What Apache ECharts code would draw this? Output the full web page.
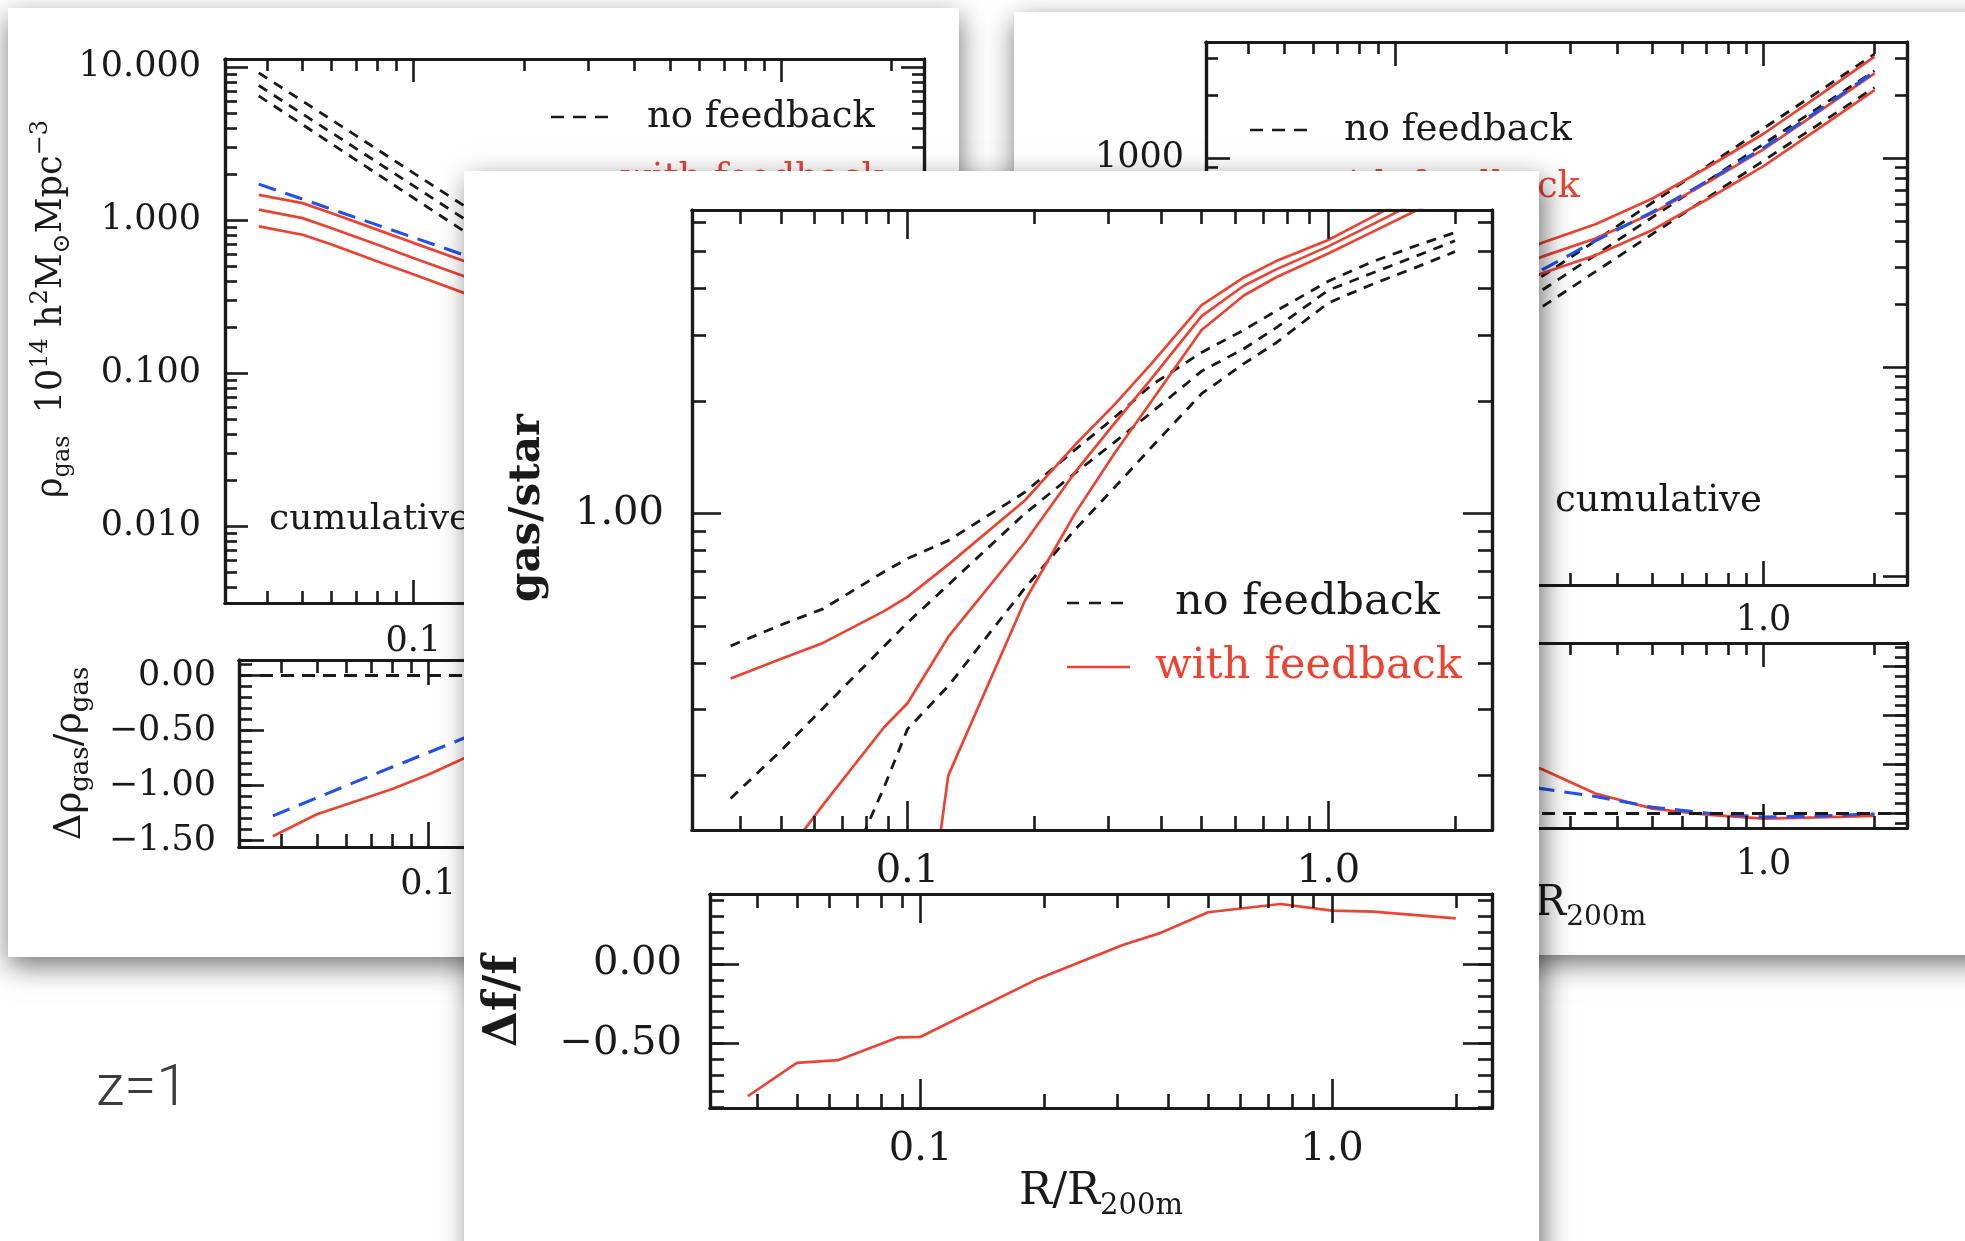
<!DOCTYPE html>
<html><head><meta charset="utf-8">
<script src="https://cdn.jsdelivr.net/npm/echarts@6/dist/echarts.min.js"></script>
<style>html,body{margin:0;padding:0;background:#fff}#c{width:1965px;height:1241px}</style>
</head><body><div id="c"></div>
<script>
// ================= DATA =================
// shared radial range R/R200m
const R_MIN = 0.03076, R_MAX = 2.449;
const X_MAJOR = [0.1, 1];
const X_LABELS = ['0.1', '1.0'];

// ---- left card: cumulative gas density ----
const LT_R      = [0.038, 0.05, 0.06, 0.08, 0.1, 0.15, 0.25, 0.4, 0.6, 1.0, 1.5, 2.0];
const LT_NOFB_1 = [9.18, 6.0, 4.52, 2.884, 2.037, 1.084, 0.455, 0.209, 0.107, 0.0437, 0.0209, 0.012];
const LT_NOFB_2 = [7.586, 4.943, 3.724, 2.377, 1.679, 0.891, 0.372, 0.170, 0.0871, 0.0355, 0.017, 0.010];
const LT_NOFB_3 = [6.486, 4.207, 3.148, 1.995, 1.40, 0.736, 0.302, 0.138, 0.0708, 0.0288, 0.0138, 0.0081];
const LT_FB_1   = [1.462, 1.291, 1.109, 0.863, 0.710, 0.501, 0.263, 0.138, 0.0776, 0.0347, 0.0174, 0.0105];
const LT_FB_2   = [1.172, 1.030, 0.885, 0.689, 0.566, 0.398, 0.209, 0.112, 0.0646, 0.0302, 0.0155, 0.00955];
const LT_FB_3   = [0.910, 0.802, 0.692, 0.537, 0.443, 0.309, 0.162, 0.0871, 0.0501, 0.024, 0.0126, 0.00794];
const LT_MEAN   = [1.718, 1.371, 1.178, 0.927, 0.771, 0.55, 0.288, 0.151, 0.0832, 0.0363, 0.0178, 0.0107];
const LT_Y_MAJOR = [0.01, 0.1, 1, 10];
const LT_Y_LABELS = ['0.010', '0.100', '1.000', '10.000'];
const LB_FB   = [-1.46, -1.26, -1.17, -1.03, -0.90, -0.63, -0.36, -0.18, -0.08, -0.02, 0.0, 0.01];
const LB_MEAN = [-1.274, -1.11, -1.00, -0.83, -0.70, -0.46, -0.24, -0.10, -0.03, 0.0, 0.0, 0.0];
const LB_Y_MAJOR = [-1.5, -1, -0.5, 0];
const LB_Y_LABELS = ['\u22121.50', '\u22121.00', '\u22120.50', '0.00'];

// ---- right card: cumulative profile ----
const RT_R      = [0.038, 0.06, 0.1, 0.15, 0.25, 0.35, 0.5, 0.7, 1.0, 1.4, 2.0];
const RT_NOFB_1 = [31.0, 50.1, 91.6, 147.9, 270.4, 401.8, 612.4, 909.9, 1387, 2061, 3141];
const RT_NOFB_2 = [27.5, 44.2, 80.0, 128.2, 232.3, 343.6, 521.2, 770.9, 1167, 1726, 2612];
const RT_NOFB_3 = [22.9, 36.7, 66.5, 106.7, 193.2, 285.8, 433.5, 641.2, 970.8, 1436, 2173];
const RT_FB_1   = [77.6, 112.7, 178.6, 254.7, 391.7, 482, 639.7, 895.4, 1306, 1968, 3055];
const RT_FB_2   = [68.9, 99.3, 156, 221, 336.5, 412, 544.5, 758.6, 1099, 1648, 2541];
const RT_FB_3   = [57.3, 82.6, 129.7, 183.7, 279.9, 342.8, 452.9, 630.9, 914.1, 1371, 2113];
const RT_MEAN   = [57.8, 83.9, 131.8, 185.8, 290.4, 401.8, 552, 770.9, 1119, 1675, 2588];
const RT_Y_MAJOR = [10, 100, 1000];
const RT_Y_LABELS = ['10', '100', '1000'];
const RB_FB   = [1.5, 1.25, 0.95, 0.72, 0.45, 0.2, 0.045, -0.017, -0.058, -0.045, -0.028];
const RB_MEAN = [1.1, 0.9, 0.65, 0.45, 0.25, 0.17, 0.06, 0.0, -0.041, -0.03, -0.01];
const RB_Y_MAJOR = [0, 0.5, 1, 1.5];
const RB_Y_LABELS = ['0.00', '0.50', '1.00', '1.50'];

// ---- middle card: gas/star ----
const MT_R      = [0.038, 0.05, 0.063, 0.088, 0.1, 0.125, 0.19, 0.25, 0.31, 0.38, 0.5, 0.63, 0.75, 1.0, 1.26, 1.6, 2.0];
const MT_NOFB_1 = [0.4436, 0.5047, 0.5572, 0.6998, 0.7586, 0.8472, 1.140, 1.479, 1.803, 2.203, 2.692, 3.090, 3.467, 4.169, 4.677, 5.164, 5.623];
const MT_NOFB_2 = [0.1738, 0.2328, 0.3027, 0.4426, 0.5117, 0.6457, 1.0, 1.282, 1.549, 1.862, 2.399, 2.754, 3.126, 3.945, 4.365, 4.842, 5.346];
const MT_NOFB_3 = [0.02, 0.0398, 0.0794, 0.1862, 0.2661, 0.3467, 0.6324, 0.9057, 1.172, 1.503, 2.089, 2.512, 2.851, 3.648, 4.074, 4.519, 5.0];
const MT_FB_1   = [0.3631, 0.4093, 0.4519, 0.5495, 0.5998, 0.7311, 1.084, 1.524, 1.950, 2.512, 3.597, 4.266, 4.710, 5.370, 6.152, 7.079, 8.072];
const MT_FB_2   = [0.0794, 0.1183, 0.1671, 0.2692, 0.3119, 0.4688, 0.8375, 1.288, 1.738, 2.291, 3.365, 4.055, 4.477, 5.164, 5.875, 6.730, 7.638];
const MT_FB_3   = [0.0063, 0.01, 0.0141, 0.0251, 0.0316, 0.2, 0.5848, 1.0, 1.445, 1.995, 3.09, 3.819, 4.266, 4.943, 5.61, 6.397, 7.228];
const MT_Y_MAJOR = [1];
const MT_Y_LABELS = ['1.00'];
const MB_R  = [0.038, 0.05, 0.063, 0.088, 0.1, 0.19, 0.31, 0.38, 0.5, 0.75, 1.0, 1.26, 2.0];
const MB_FB = [-0.832, -0.622, -0.605, -0.462, -0.458, -0.101, 0.12, 0.193, 0.326, 0.378, 0.336, 0.33, 0.288];
const MB_Y_MAJOR = [-0.5, 0];
const MB_Y_LABELS = ['\u22120.50', '0.00'];

// ================= STYLE / BUILD =================
const INK = '#1a1a1a', RED = '#ef4332', BLUE = '#2152ec';
const SERIF = '"DejaVu Serif", serif';

function decadeMinors(e0, e1, lo, hi) {
  const out = [];
  for (let e = e0; e <= e1; e++) for (let m = 2; m <= 9; m++) {
    const v = m * Math.pow(10, e);
    if (v >= lo * 0.999 && v <= hi * 1.001) out.push(v);
  }
  return out;
}
function linMinors(a, b) {
  const out = [];
  for (let k = Math.round(a * 10); k <= Math.round(b * 10); k++) out.push(k / 10);
  return out;
}
const X_MINOR = decadeMinors(-2, 0, R_MIN, R_MAX);

const option = {
  backgroundColor: '#ffffff', animation: false,
  textStyle: { fontFamily: SERIF },
  grid: [], xAxis: [], yAxis: [], series: [], graphic: { elements: [] }
};

function nearestText(vals, texts) {
  return function (v) {
    let k = 0, best = Infinity;
    vals.forEach((t, i) => { const d = Math.abs(t - v); if (d < best) { best = d; k = i; } });
    return texts[k];
  };
}

function decor(gi, pos, range, ticks, len, lab, name, zl) {
  const ax = {
    type: 'value', gridIndex: gi, position: pos, min: range[0], max: range[1],
    zlevel: zl, z: 6, silent: true,
    axisLine: { show: true, onZero: false, lineStyle: { color: INK, width: 3.2 } },
    axisTick: { show: true, inside: true, length: len, customValues: ticks, lineStyle: { color: INK, width: 2.6 } },
    axisLabel: { show: false }, splitLine: { show: false }, minorTick: { show: false }
  };
  if (lab) {
    ax.axisLabel = {
      show: true, customValues: lab.vals, margin: lab.margin, color: INK,
      fontFamily: SERIF, fontSize: lab.size, formatter: nearestText(lab.vals, lab.texts)
    };
  }
  if (name) Object.assign(ax, name);
  return ax;
}

function richName(size, sub, weight, pad) {
  return {
    color: INK, fontFamily: SERIF, fontSize: size, fontWeight: weight, padding: pad || 0,
    rich: {
      m: { fontFamily: SERIF, fontSize: size, fontWeight: weight, color: INK, lineHeight: Math.round(size * 1.3), verticalAlign: 'middle' },
      s: { fontFamily: SERIF, fontSize: sub, fontWeight: weight, color: INK, lineHeight: sub, verticalAlign: 'bottom' },
      p: { fontFamily: SERIF, fontSize: sub, fontWeight: weight, color: INK, lineHeight: sub, verticalAlign: 'top' }
    }
  };
}

function addPanel(p) {
  const gi = option.grid.length;
  option.grid.push({ left: p.left, top: p.top, width: p.width, height: p.height, show: false, zlevel: p.zl });
  p.xi = option.xAxis.length;
  option.xAxis.push({ type: 'log', logBase: 10, gridIndex: gi, min: R_MIN, max: R_MAX, show: false, zlevel: p.zl });
  p.yi = option.yAxis.length;
  option.yAxis.push(p.ylog
    ? { type: 'log', logBase: 10, gridIndex: gi, min: p.ymin, max: p.ymax, show: false, zlevel: p.zl }
    : { type: 'value', gridIndex: gi, min: p.ymin, max: p.ymax, show: false, zlevel: p.zl });
  const fx = Math.log10, fy = p.ylog ? Math.log10 : (v => v);
  const xr = [fx(R_MIN), fx(R_MAX)], yr = [fy(p.ymin), fy(p.ymax)];
  const xMaj = X_MAJOR.map(fx), xMin = X_MINOR.map(fx);
  const yMaj = p.yMajor.map(fy), yMin = p.yMinor.map(fy);
  const xl = { vals: xMaj, texts: X_LABELS, margin: p.xMargin, size: p.fs };
  const yl = { vals: yMaj, texts: p.yLabels, margin: p.yMargin, size: p.fs };
  option.xAxis.push(decor(gi, 'bottom', xr, xMaj, p.tick[0], xl, p.xName, p.zl));
  option.xAxis.push(decor(gi, 'bottom', xr, xMin, p.tick[1], null, null, p.zl));
  option.xAxis.push(decor(gi, 'top', xr, xMaj, p.tick[0], null, null, p.zl));
  option.xAxis.push(decor(gi, 'top', xr, xMin, p.tick[1], null, null, p.zl));
  option.yAxis.push(decor(gi, 'left', yr, yMaj, p.tick[0], yl, p.yName, p.zl));
  option.yAxis.push(decor(gi, 'left', yr, yMin, p.tick[1], null, null, p.zl));
  option.yAxis.push(decor(gi, 'right', yr, yMaj, p.tick[0], null, null, p.zl));
  option.yAxis.push(decor(gi, 'right', yr, yMin, p.tick[1], null, null, p.zl));
  return p;
}

const STY = {
  nofb: { color: INK, width: 2.8, type: [10, 8] },
  fb:   { color: RED, width: 2.7, type: 'solid' },
  mean: { color: BLUE, width: 3.1, type: [18, 10] }
};
function addLine(p, name, R, V, kind, extra) {
  const s = {
    type: 'line', name, xAxisIndex: p.xi, yAxisIndex: p.yi,
    data: R.map((r, i) => [r, V[i]]), symbol: 'none', showSymbol: false,
    lineStyle: STY[kind], zlevel: p.zl, z: 3, silent: true, clip: true, animation: false
  };
  if (extra) Object.assign(s, extra);
  option.series.push(s);
}
const zeroLine = {
  markLine: { symbol: 'none', silent: true, label: { show: false }, animation: false,
    lineStyle: { color: INK, width: 2.8, type: [13, 8] }, data: [{ yAxis: 0 }] }
};
function xNameOpt(gap, size, sub, pad) {
  return { name: '{m|R/R}{s|200m}', nameLocation: 'middle', nameGap: gap, nameTextStyle: richName(size, sub, 'normal', pad) };
}

// ---- panels ----
const LT = addPanel({ left: 225, top: 59, width: 699, height: 544, zl: 0, ylog: true, ymin: 0.003141, ymax: 11.30,
  yMajor: LT_Y_MAJOR, yLabels: LT_Y_LABELS, yMinor: decadeMinors(-3, 0, 0.003141, 11.3),
  tick: [23, 12], fs: 35, xMargin: 21, yMargin: 24,
  yName: { name: '{m|\u03c1}{s|gas}{m|  10}{p|14}{m| h}{p|2}{m|M}{s|\u2299}{m|Mpc}{p|\u22123}', nameLocation: 'middle', nameRotate: 90,
    nameGap: 132, nameTextStyle: richName(35, 24, 'normal', [0, 0, 0, 44]) } });
const LB = addPanel({ left: 239, top: 660, width: 702, height: 187, zl: 0, ylog: false, ymin: -1.557, ymax: 0.143,
  yMajor: LB_Y_MAJOR, yLabels: LB_Y_LABELS, yMinor: linMinors(-1.5, 0.1),
  tick: [25, 13], fs: 35, xMargin: 20, yMargin: 23,
  yName: { name: '{m|\u0394\u03c1}{s|gas}{m|/\u03c1}{s|gas}', nameLocation: 'middle', nameRotate: 90,
    nameGap: 145, nameTextStyle: richName(37, 26, 'normal') },
  xName: xNameOpt(48, 42, 28) });
const RT = addPanel({ left: 1206, top: 42, width: 701, height: 543, zl: 0, ylog: true, ymin: 9.057, ymax: 3589,
  yMajor: RT_Y_MAJOR, yLabels: RT_Y_LABELS, yMinor: decadeMinors(0, 3, 9.057, 3589),
  tick: [24, 12], fs: 35, xMargin: 18, yMargin: 22 });
const RB = addPanel({ left: 1206, top: 643, width: 701, height: 185, zl: 0, ylog: false, ymin: -0.153, ymax: 1.741,
  yMajor: RB_Y_MAJOR, yLabels: RB_Y_LABELS, yMinor: linMinors(-0.1, 1.7),
  tick: [24, 12], fs: 35, xMargin: 19, yMargin: 22, xName: xNameOpt(46, 42, 28, [0, 0, 0, 22]) });
const MT = addPanel({ left: 692, top: 210, width: 800, height: 620, zl: 1, ylog: true, ymin: 0.1432, ymax: 6.457,
  yMajor: MT_Y_MAJOR, yLabels: MT_Y_LABELS, yMinor: decadeMinors(-1, 0, 0.1432, 6.457),
  tick: [29, 14], fs: 40, xMargin: 22, yMargin: 28,
  yName: { name: '{m|gas/star}', nameLocation: 'middle', nameRotate: 90, nameGap: 136,
    nameTextStyle: richName(42, 30, 'bold', [0, 0, 0, 24]) } });
const MB = addPanel({ left: 710, top: 894, width: 782, height: 214, zl: 1, ylog: false, ymin: -0.906, ymax: 0.441,
  yMajor: MB_Y_MAJOR, yLabels: MB_Y_LABELS, yMinor: linMinors(-0.9, 0.4),
  tick: [29, 14], fs: 40, xMargin: 22, yMargin: 28,
  yName: { name: '{m|\u0394f/f}', nameLocation: 'middle', nameRotate: 90, nameGap: 176, nameTextStyle: richName(46, 30, 'bold') },
  xName: xNameOpt(52, 44, 29) });

// ---- series ----
[LT_NOFB_1, LT_NOFB_2, LT_NOFB_3].forEach(v => addLine(LT, 'no feedback', LT_R, v, 'nofb'));
[LT_FB_1, LT_FB_2, LT_FB_3].forEach(v => addLine(LT, 'with feedback', LT_R, v, 'fb'));
addLine(LT, 'mean', LT_R, LT_MEAN, 'mean');
addLine(LB, 'with feedback', LT_R, LB_FB, 'fb', zeroLine);
addLine(LB, 'mean', LT_R, LB_MEAN, 'mean');

[RT_NOFB_1, RT_NOFB_2, RT_NOFB_3].forEach(v => addLine(RT, 'no feedback', RT_R, v, 'nofb'));
[RT_FB_1, RT_FB_2, RT_FB_3].forEach(v => addLine(RT, 'with feedback', RT_R, v, 'fb'));
addLine(RT, 'mean', RT_R, RT_MEAN, 'mean');
addLine(RB, 'with feedback', RT_R, RB_FB, 'fb', zeroLine);
addLine(RB, 'mean', RT_R, RB_MEAN, 'mean');

[MT_NOFB_1, MT_NOFB_2, MT_NOFB_3].forEach(v => addLine(MT, 'no feedback', MT_R, v, 'nofb'));
[MT_FB_1, MT_FB_2, MT_FB_3].forEach(v => addLine(MT, 'with feedback', MT_R, v, 'fb'));
addLine(MB, 'with feedback', MB_R, MB_FB, 'fb', zeroLine);

// ---- cards, legends, notes ----
const G = option.graphic.elements;
function card(x, y, w, h, zl, sx) {
  G.push({ type: 'rect', zlevel: zl, z: 0, silent: true, shape: { x, y, width: w, height: h },
    style: { fill: '#ffffff', shadowBlur: 26, shadowOffsetX: sx, shadowOffsetY: 9, shadowColor: 'rgba(0,0,0,0.55)' } });
}
function txt(x, y, text, size, color, zl, weight) {
  G.push({ type: 'text', zlevel: zl, z: 10, silent: true, x, y,
    style: { text, fill: color, font: (weight || 'normal') + ' ' + size + 'px ' + SERIF,
      align: 'left', verticalAlign: 'middle', textAlign: 'left', textVerticalAlign: 'middle' } });
}
function sample(x1, x2, y, color, dash, zl) {
  G.push({ type: 'line', zlevel: zl, z: 10, silent: true, shape: { x1, y1: y, x2, y2: y },
    style: { stroke: color, lineWidth: 2.7, lineDash: dash } });
}
card(8, 8, 951, 949, 0, 1);
card(1014, 12, 1000, 943, 0, 1);
card(464, 171, 1075, 1120, 1, 5);

// left card legend + note
sample(551, 609, 117, INK, [13, 9], 0); txt(647, 117, 'no feedback', 37, INK, 0);
sample(551, 609, 179, RED, null, 0);    txt(620, 179, 'with feedback', 37, RED, 0);
txt(269, 520, 'cumulative', 36, INK, 0);
// right card legend + note
sample(1250, 1308, 130, INK, [13, 9], 0); txt(1344, 130, 'no feedback', 37, INK, 0);
sample(1250, 1308, 187, RED, null, 0);    txt(1316, 187, 'with feedback', 37, RED, 0);
txt(1555, 501, 'cumulative', 37, INK, 0);
// middle card legend
sample(1067, 1130, 603, INK, [12, 10], 1); txt(1175, 603, 'no feedback', 43, INK, 1);
sample(1067, 1130, 667, RED, null, 1);     txt(1155, 667, 'with feedback', 43, RED, 1);
// slide note
G.push({ type: 'text', zlevel: 0, z: 10, silent: true, x: 96, y: 1090,
  style: { text: 'z=1', fill: '#3c3c3c', font: '300 58px Roboto, "Open Sans", sans-serif',
    align: 'left', verticalAlign: 'middle', textAlign: 'left', textVerticalAlign: 'middle' } });

const chart = echarts.init(document.getElementById('c'), null, { renderer: 'canvas' });
chart.setOption(option);
</script>
</body></html>
